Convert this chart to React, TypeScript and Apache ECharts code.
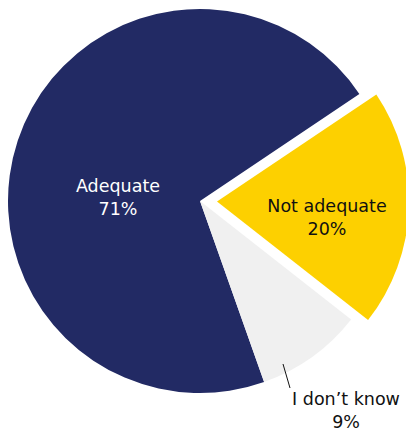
import React, { useEffect, useRef } from "react";
import * as echarts from "echarts";

const categories = ["Adequate", "Not adequate", "I don\u2019t know"];
const values = [71, 20, 9];
const colors = ["#222A64", "#FDD000", "#F0F0F0"];
const labelColors = ["#FFFFFF", "#111111", "#111111"];
const explodedIndex = 1;

export default function App() {
  const ref = useRef<HTMLDivElement>(null);
  useEffect(() => {
    if (!ref.current) return;
    const chart = echarts.init(ref.current, undefined, { renderer: "svg" });
    const labelSpots: Record<number, any> = {
      0: { x: 118, y: 197 },
      1: { x: 327, y: 217 },
      2: { x: 346, y: 410 },
    };
    const startAngle = -70.5;
    const radius = 192;
    const offset = 17;
    const total = values.reduce((a, b) => a + b, 0);
    const before = values.slice(0, explodedIndex).reduce((a, b) => a + b, 0);
    const midDeg = startAngle - ((before + values[explodedIndex] / 2) / total) * 360;
    const midRad = (midDeg * Math.PI) / 180;
    const cx = 200;
    const cy = 201;
    const base = {
      type: "pie",
      radius: [0, radius],
      startAngle,
      clockwise: true,
      silent: true,
      emphasis: { disabled: true },
      labelLine: { show: false },
      label: {
        show: true,
        position: "inside",
        fontFamily: "DejaVu Sans",
        fontSize: 17.5,
        lineHeight: 23,
        overflow: "none",
        formatter: "{b}\n{c}%",
      },
      labelLayout: (p: any) => ({ ...labelSpots[p.dataIndex], align: "center", verticalAlign: "middle" }),
    };
    const makeData = (showExploded: boolean) =>
      categories.map((name, i) => {
        const visible = (i === explodedIndex) === showExploded;
        return {
          name,
          value: values[i],
          itemStyle: { color: visible ? colors[i] : "rgba(0,0,0,0)" },
          label: { show: visible, color: labelColors[i] },
        };
      });
    chart.setOption({
      animation: false,
      graphic: [
        {
          type: "line",
          z: 100,
          shape: { x1: 283, y1: 364, x2: 290, y2: 388 },
          style: { stroke: "#111", lineWidth: 1 },
        },
      ],
      series: [
        { ...base, center: [cx, cy], data: makeData(false) },
        {
          ...base,
          center: [cx + offset * Math.cos(midRad), cy - offset * Math.sin(midRad)],
          data: makeData(true),
        },
      ],
    });
    return () => chart.dispose();
  }, []);
  return (
    <div
      ref={ref}
      style={{ position: "fixed", left: 0, top: 0, width: 406, height: 431, background: "#fff" }}
    />
  );
}
